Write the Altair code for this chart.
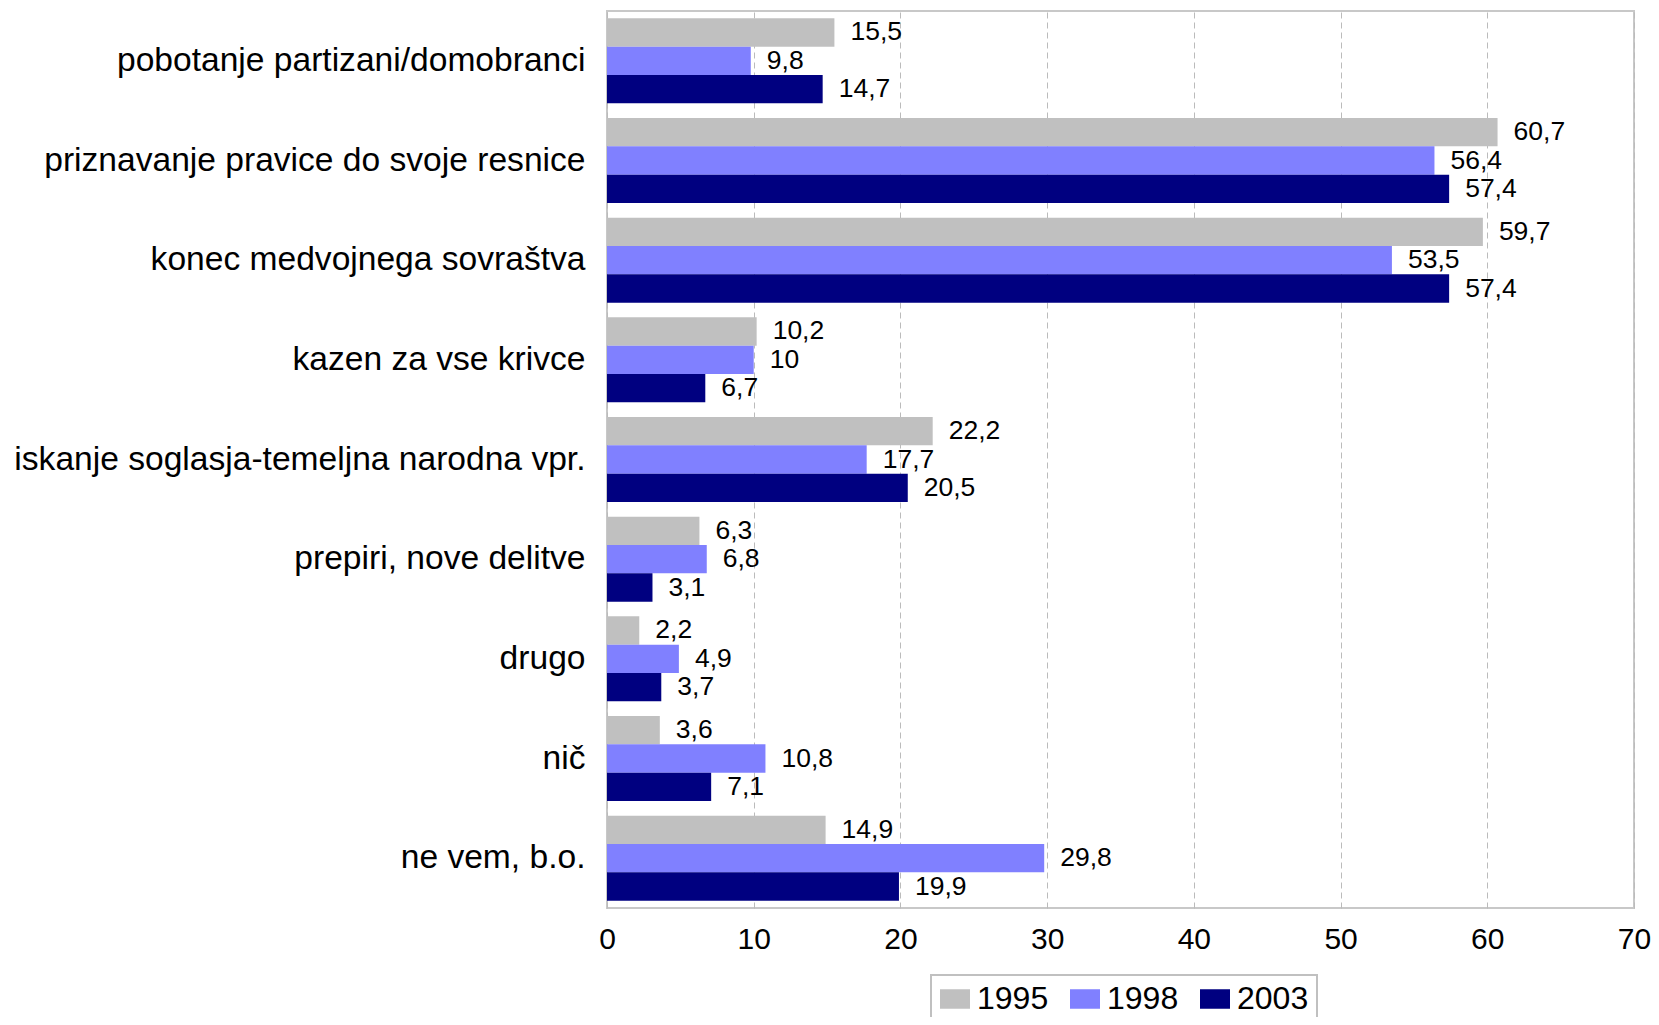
import altair as alt
import pandas as pd

categories = [
    "pobotanje partizani/domobranci",
    "priznavanje pravice do svoje resnice",
    "konec medvojnega sovraštva",
    "kazen za vse krivce",
    "iskanje soglasja-temeljna narodna vpr.",
    "prepiri, nove delitve",
    "drugo",
    "nič",
    "ne vem, b.o.",
]
years = ["1995", "1998", "2003"]
v1995 = [15.5, 60.7, 59.7, 10.2, 22.2, 6.3, 2.2, 3.6, 14.9]
v1998 = [9.8, 56.4, 53.5, 10.0, 17.7, 6.8, 4.9, 10.8, 29.8]
v2003 = [14.7, 57.4, 57.4, 6.7, 20.5, 3.1, 3.7, 7.1, 19.9]
colors = ["#C0C0C0", "#8080FF", "#000080"]
x_ticks = [0, 10, 20, 30, 40, 50, 60, 70]


def fmt(v):
    if float(v).is_integer():
        return str(int(v))
    return f"{v:.1f}".replace(".", ",")


rows = []
for yr, vals in zip(years, [v1995, v1998, v2003]):
    for c, v in zip(categories, vals):
        rows.append({"cat": c, "year": yr, "value": v, "label": fmt(v)})
df = pd.DataFrame(rows)

FONT = "Liberation Sans"

y_enc = alt.Y(
    "cat:N",
    sort=categories,
    scale=alt.Scale(paddingInner=0.147, paddingOuter=0.0735),
    axis=alt.Axis(
        title=None,
        labelFontSize=33.6,
        labelFont=FONT,
        labelColor="#000000",
        labelLimit=800,
        labelPadding=22,
        ticks=False,
        domain=False,
        grid=False,
    ),
)
yoff = alt.YOffset("year:N", sort=years, scale=alt.Scale(paddingInner=0, paddingOuter=0))
x_enc = alt.X(
    "value:Q",
    scale=alt.Scale(domain=[0, 70], nice=False),
    axis=alt.Axis(
        title=None,
        values=x_ticks,
        format="d",
        labelFontSize=30,
        labelFont=FONT,
        labelColor="#000000",
        labelPadding=16,
        ticks=False,
        domain=False,
        grid=True,
        gridDash=[6, 4],
        gridColor="#BBBBBB",
        gridWidth=1,
        labelFlush=False,
    ),
)

bars = alt.Chart(df).mark_bar().encode(
    y=y_enc,
    yOffset=yoff,
    x=x_enc,
    color=alt.Color(
        "year:N",
        sort=years,
        scale=alt.Scale(domain=years, range=colors),
        legend=alt.Legend(
            title=None,
            orient="none",
            legendX=324,
            legendY=964,
            direction="horizontal",
            symbolType="M-1,-0.65L1,-0.65L1,0.65L-1,0.65Z",
            symbolSize=900,
            symbolStrokeWidth=0,
            labelFontSize=32,
            labelFont=FONT,
            labelColor="#000000",
            labelOffset=6,
            columnPadding=20,
            padding=8,
            strokeColor="#C0C0C0",
            fillColor="#FFFFFF",
        ),
    ),
)

texts = alt.Chart(df).mark_text(
    align="left", baseline="middle", dx=16, fontSize=26.5, font=FONT, color="#000000"
).encode(
    y=alt.Y("cat:N", sort=categories),
    yOffset=alt.YOffset("year:N", sort=years),
    x=alt.X("value:Q"),
    text="label:N",
)

chart = (
    alt.layer(bars, texts)
    .properties(
        width=1027,
        height=897,
        autosize=alt.AutoSizeParams(type="none"),
        padding={"left": 599, "top": 3, "right": 17, "bottom": 109},
    )
    .configure_view(stroke="#C8C8C8", strokeWidth=2)
    .configure_legend(strokeWidth=2)
)

chart.save("out.html", embed_options={"renderer": "svg", "actions": False})
